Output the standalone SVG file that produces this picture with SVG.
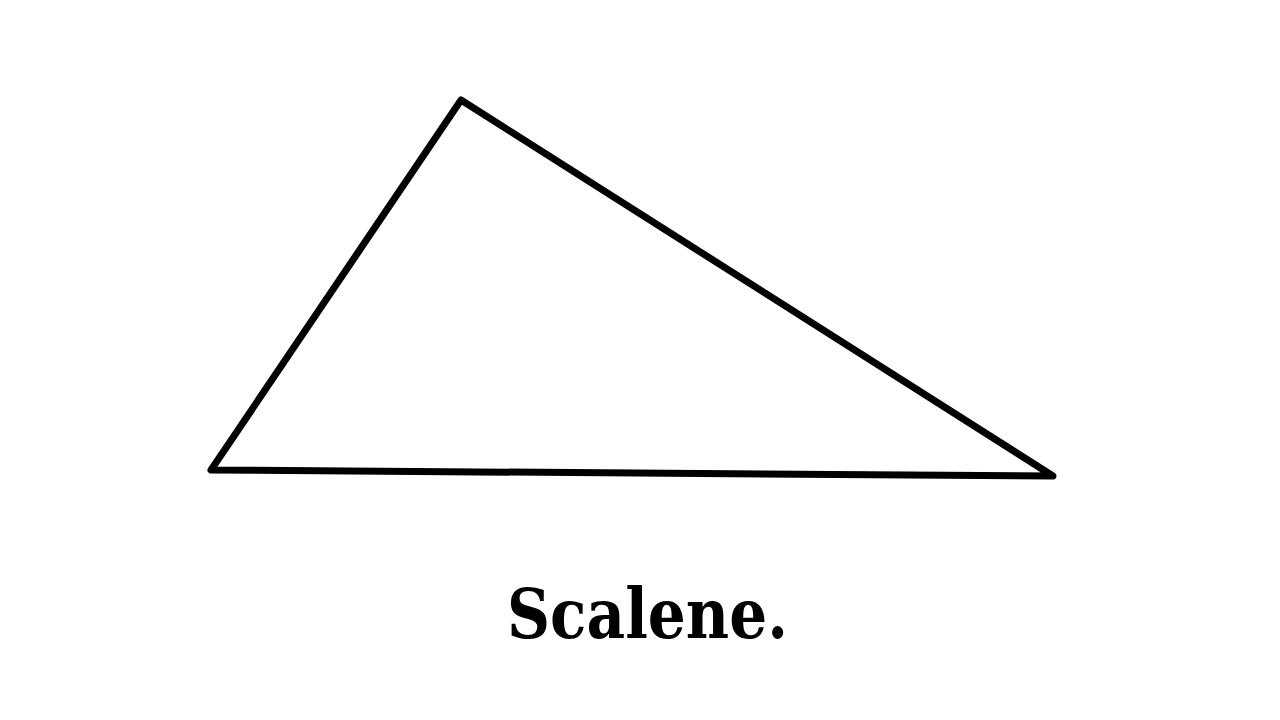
<svg xmlns="http://www.w3.org/2000/svg" width="1280" height="720" viewBox="0 0 1280 720">
<style>
.edge{fill:none;stroke:#000;stroke-width:7;stroke-linejoin:round;stroke-linecap:round}
.label{font-family:"DejaVu Serif","Liberation Serif",serif;font-weight:bold;font-size:70px;fill:#000}
</style>
<rect width="1280" height="720" fill="#fff"/>
<g id="triangle">
<polygon class="edge" points="461,100 211,470 1053,476"/>
</g>
<g id="caption">
<text class="label" x="647.5" y="638" text-anchor="middle" textLength="281" lengthAdjust="spacingAndGlyphs">Scalene.</text>
</g>
</svg>
